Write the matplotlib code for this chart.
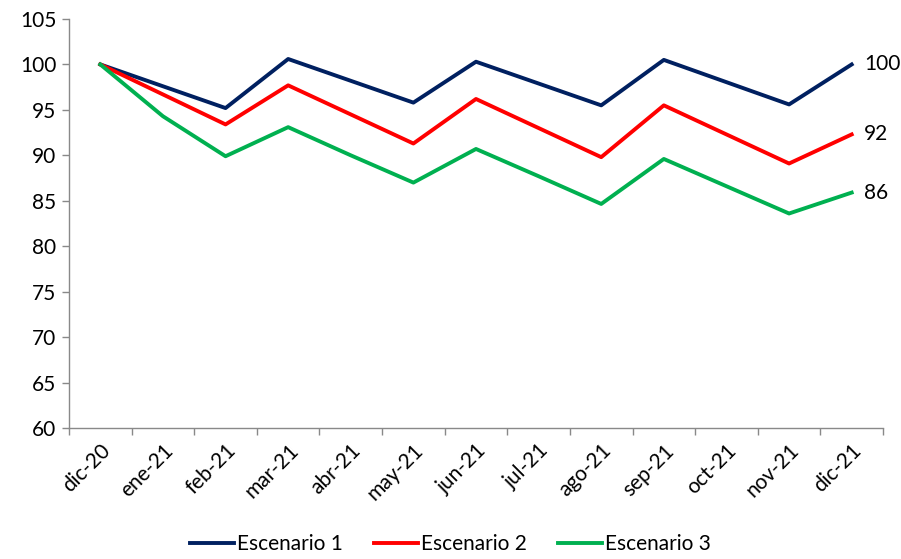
import matplotlib.pyplot as plt
import numpy as np

# months (categories)
months = ['dic-20', 'ene-21', 'feb-21', 'mar-21', 'abr-21', 'may-21', 'jun-21',
          'jul-21', 'ago-21', 'sep-21', 'oct-21', 'nov-21', 'dic-21']

# index values
escenario1 = [100, 97.6, 95.2, 100.6, 98.2, 95.8, 100.3, 97.9, 95.5, 100.5, 98.05, 95.6, 100.0]
escenario2 = [100, 96.7, 93.4, 97.7, 94.5, 91.3, 96.2, 93.0, 89.8, 95.5, 92.3, 89.1, 92.3]
escenario3 = [100, 94.3, 89.9, 93.1, 90.0, 87.0, 90.7, 87.7, 84.65, 89.6, 86.6, 83.6, 85.9]

end_labels = ['100', '92', '86']

plt.rcParams['font.family'] = ['Lato', 'DejaVu Sans']

fig = plt.figure(figsize=(9.01, 5.59), dpi=100)
ax = fig.add_axes([0.0766, 0.2344, 0.9034, 0.7316])

x = np.arange(len(months))
series = [(escenario1, '#002060', 'Escenario 1'),
          (escenario2, '#FF0000', 'Escenario 2'),
          (escenario3, '#00B050', 'Escenario 3')]

for (vals, color, name), lab in zip(series, end_labels):
    ax.plot(x, vals, color=color, linewidth=2.8, label=name)
    ax.annotate(lab, xy=(x[-1], vals[-1]), xytext=(9, 0), textcoords='offset points',
                va='center', ha='left', fontsize=15)

# axes styling (Excel-like)
ax.set_xlim(-0.5, len(months) - 0.5)
ax.set_ylim(60, 105)
ax.set_yticks(np.arange(60, 106, 5))
ax.set_xticks(x)
ax.set_xticklabels(months, rotation=45, ha='right', rotation_mode='anchor')
ax.set_xticks(np.arange(-0.5, len(months)), minor=True)
ax.tick_params(axis='x', which='major', length=0, pad=9, labelsize=15)
ax.tick_params(axis='x', which='minor', length=5, color='#898989', width=1)
ax.tick_params(axis='y', length=5, color='#898989', width=1, labelsize=15, pad=4)

for side in ['top', 'right']:
    ax.spines[side].set_visible(False)
for side in ['left', 'bottom']:
    ax.spines[side].set_color('#898989')
    ax.spines[side].set_linewidth(1)

fig.legend(loc='lower center', bbox_to_anchor=(0.5, -0.025), ncol=3, frameon=False,
           fontsize=15, handlelength=2.1, handletextpad=0.15, columnspacing=1.5)

fig.savefig('out.png', dpi=100)
